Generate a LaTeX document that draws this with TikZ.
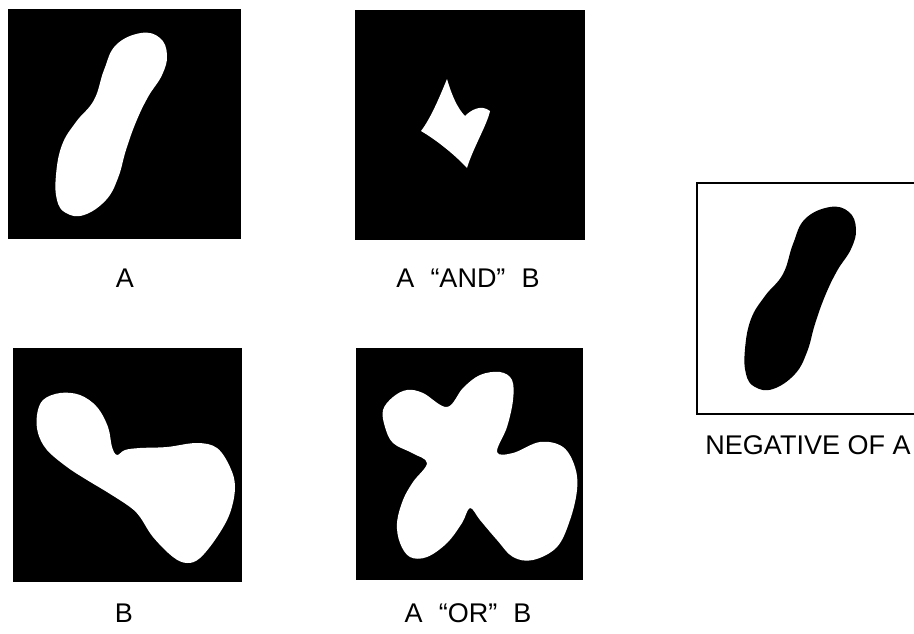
\documentclass[tikz,border=0pt]{standalone}
\usepackage{fontspec}
\setmainfont{Liberation Sans}
\newcommand\qgap{\hspace{0.6em}}
\begin{document}
\begin{tikzpicture}[x=1pt,y=-1pt,
  panel/.style={fill=black},
  lbl/.style={font=\fontsize{27}{31}\selectfont,inner sep=0pt,anchor=base}]
\useasboundingbox (0,0) rectangle (914,633);
% blob of A, reused for its negative
\newcommand\blobA[1]{\fill[#1] plot[smooth cycle,tension=0.7] coordinates {(141,33) (160,38) (167,55) (162,75) (148,97) (136,122) (126,150) (118,178) (106,200) (84,215) (66,213) (57,200) (56,175) (62,145) (76,122) (94,100) (104,70) (116,45)};}
% A
\fill[panel] (8,9) rectangle (241,239);
\blobA{white}
\node[lbl] (labA) at (125,287) {A};
% A AND B
\fill[panel] (355,10) rectangle (585,240);
\fill[white] (447,79) .. controls (451,93) and (457,108) .. (465,116) .. controls (471,110) and (481,104) .. (490,111)
  .. controls (487,125) and (473,148) .. (467,168) .. controls (456,156) and (438,141) .. (421,131)
  .. controls (431,118) and (440,96) .. cycle;
\node[lbl] (labAND) at (468,287) {A\qgap“AND”\qgap B};
% B
\fill[panel] (13,348) rectangle (242,582);
\fill[white] plot[smooth cycle,tension=0.6] coordinates {(37,415) (43,400) (60,393) (80,395) (97,407) (108,427) (112,447) (117,455) (125,450) (140,448) (167,447) (197,443) (217,448) (230,467) (235,487) (230,513) (217,537) (200,558) (187,563) (173,557) (153,537) (140,517) (130,507) (107,492) (87,480) (67,467) (47,450) (38,433)};
\node[lbl] (labB) at (124,622) {B};
% A OR B
\fill[panel] (356,348) rectangle (583,580);
\fill[white] plot[smooth cycle,tension=0.6] coordinates {(383,410) (393,397) (407,390) (423,393) (447,407) (463,388) (480,375) (500,372) (512,380) (513,400) (507,427) (497,452) (513,453) (540,442) (563,447) (575,467) (577,490) (570,520) (557,547) (533,560) (513,557) (497,540) (480,520) (470,508) (462,523) (447,543) (427,557) (410,557) (400,543) (397,523) (403,500) (413,482) (427,463) (412,453) (393,443) (385,427)};
\node[lbl] (labOR) at (468,622) {A\qgap“OR”\qgap B};
% negative of A
\draw[line width=2.5pt] (697,183) rectangle (930,414);
\begin{scope}[shift={(689,174)}]
\blobA{black}
\end{scope}
\node[lbl] (labNeg) at (808,454) {NEGATIVE OF A};
\end{tikzpicture}
\end{document}
